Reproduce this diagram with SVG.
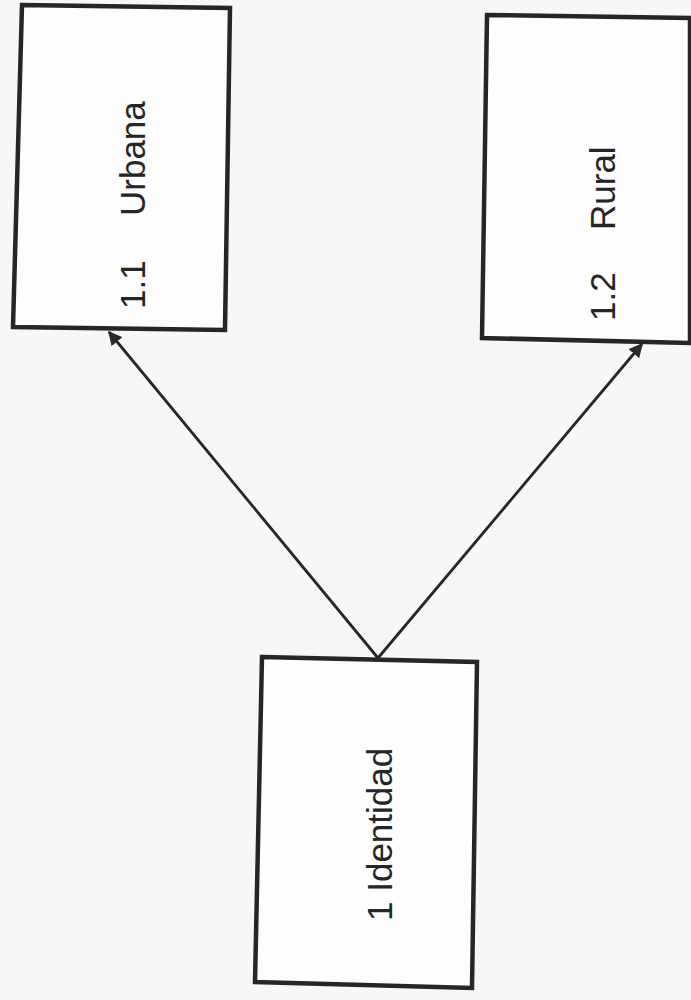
<svg xmlns="http://www.w3.org/2000/svg" width="691" height="1000" viewBox="0 0 691 1000">
<defs>
<marker id="ah" viewBox="0 0 10 10" refX="9" refY="5" markerWidth="5" markerHeight="5" orient="auto" markerUnits="strokeWidth">
<path d="M0,0 L10,5 L0,10 z" fill="#2a2a2a"/>
</marker>
<style>
.box{fill:#fdfdfd;stroke:#262626;stroke-width:4.5;stroke-linejoin:miter}
.lbl{font-family:"Liberation Sans",Arial,sans-serif;font-size:35px;fill:#252525}
.con{stroke:#262626;stroke-width:2.8;fill:none}
</style>
</defs>
<rect width="691" height="1000" fill="#f6f8f7"/>
<g id="connectors">
<line class="con" x1="378" y1="658" x2="109" y2="332" marker-end="url(#ah)"/>
<line class="con" x1="378" y1="658" x2="642" y2="344" marker-end="url(#ah)"/>
</g>
<g id="node-urbana">
<polygon class="box" points="22,5 230,8 225,330 13,327"/>
<text class="lbl" transform="translate(145,309) rotate(-90)">1.1</text>
<text class="lbl" transform="translate(145,216) rotate(-90)">Urbana</text>
</g>
<g id="node-rural">
<polygon class="box" points="487,15 690,18 690,343 482,338"/>
<text class="lbl" transform="translate(615,321) rotate(-90)">1.2</text>
<text class="lbl" transform="translate(615,230) rotate(-90)">Rural</text>
</g>
<g id="node-identidad">
<polygon class="box" points="262,657 477,662 472,988 255,982"/>
<text class="lbl" transform="translate(392,921) rotate(-90)">1 Identidad</text>
</g>
</svg>
